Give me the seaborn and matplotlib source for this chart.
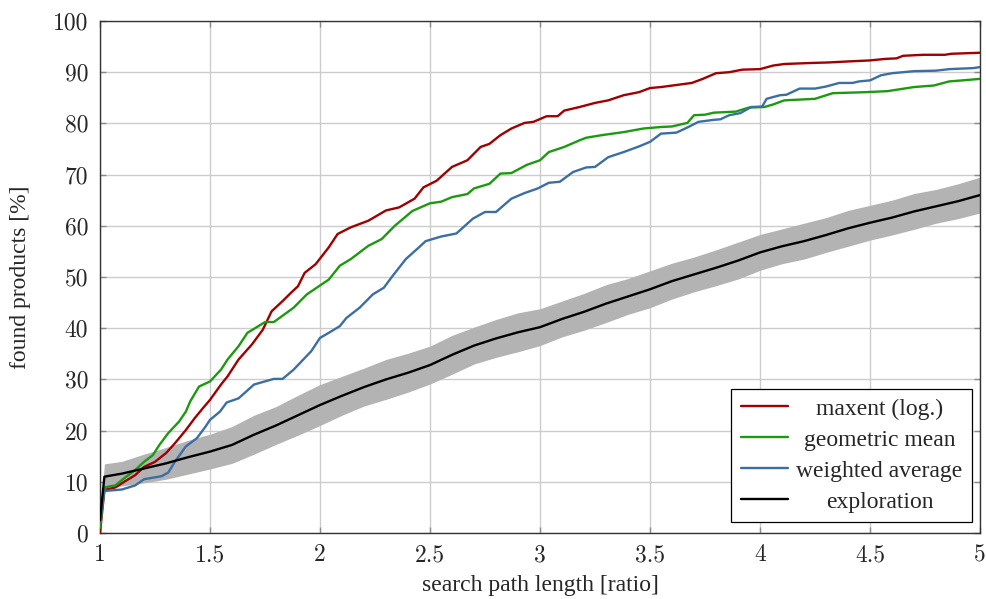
import matplotlib
matplotlib.use("Agg")
import matplotlib.pyplot as plt
import numpy as np
import pandas as pd
import seaborn as sns

# ---- data -------------------------------------------------------------
maxent_x = [1.0, 1.02, 1.07, 1.11, 1.16, 1.2, 1.25, 1.3, 1.34, 1.39, 1.43, 1.47, 1.5, 1.55, 1.58,
            1.63, 1.69, 1.74, 1.78, 1.83, 1.87, 1.9, 1.93, 1.98, 2.04, 2.08, 2.14, 2.22, 2.3, 2.36,
            2.43, 2.47, 2.53, 2.6, 2.67, 2.73, 2.77, 2.82, 2.87, 2.93, 2.97, 3.03, 3.08, 3.11, 3.18,
            3.25, 3.31, 3.38, 3.45, 3.5, 3.55, 3.62, 3.69, 3.74, 3.8, 3.86, 3.92, 4.0, 4.06, 4.11,
            4.23, 4.31, 4.4, 4.5, 4.57, 4.62, 4.65, 4.74, 4.84, 4.87, 5.0]
maxent_y = [0, 8.4, 8.9, 10, 11.3, 12.9, 13.9, 15.6, 17.5, 20.1, 22.4, 24.5, 26, 29, 30.6,
            33.9, 36.8, 39.7, 43.3, 45.3, 47, 48.2, 50.8, 52.5, 55.8, 58.4, 59.7, 61, 63, 63.6,
            65.3, 67.5, 68.8, 71.5, 72.8, 75.4, 76, 77.7, 79, 80.1, 80.3, 81.4, 81.4, 82.5, 83.2,
            84, 84.5, 85.5, 86.1, 86.9, 87.1, 87.5, 87.9, 88.7, 89.8, 90, 90.5, 90.6, 91.3, 91.6,
            91.8, 91.9, 92.1, 92.3, 92.6, 92.7, 93.2, 93.4, 93.4, 93.6, 93.8]

geo_x = [1.0, 1.02, 1.07, 1.11, 1.16, 1.2, 1.24, 1.27, 1.31, 1.36, 1.39, 1.41, 1.45, 1.5, 1.55,
         1.58, 1.63, 1.67, 1.72, 1.75, 1.79, 1.88, 1.94, 2.04, 2.09, 2.14, 2.22, 2.28, 2.34, 2.42,
         2.5, 2.55, 2.6, 2.67, 2.7, 2.77, 2.82, 2.87, 2.94, 3.0, 3.04, 3.11, 3.18, 3.21, 3.28,
         3.38, 3.47, 3.55, 3.6, 3.67, 3.7, 3.75, 3.79, 3.89, 3.95, 4.02, 4.06, 4.11, 4.25, 4.33,
         4.48, 4.58, 4.7, 4.79, 4.86, 4.92, 5.0]
geo_y = [1, 8.9, 9.3, 10.7, 12.3, 13.9, 15.2, 17.2, 19.5, 21.8, 23.7, 25.7, 28.6, 29.6, 31.9,
         33.9, 36.5, 39.1, 40.4, 41.2, 41.2, 44, 46.6, 49.5, 52.2, 53.5, 56.1, 57.4, 60, 62.9,
         64.4, 64.7, 65.6, 66.2, 67.3, 68.2, 70.2, 70.3, 71.9, 72.8, 74.4, 75.4, 76.7, 77.2, 77.7,
         78.3, 79, 79.3, 79.4, 80.1, 81.6, 81.7, 82.1, 82.3, 83.1, 83.2, 83.7, 84.5, 84.8, 85.9,
         86.1, 86.3, 87.1, 87.4, 88.2, 88.4, 88.7]

wavg_x = [1.0, 1.02, 1.1, 1.16, 1.2, 1.28, 1.31, 1.34, 1.39, 1.44, 1.48, 1.5, 1.545, 1.576, 1.63,
          1.7, 1.79, 1.83, 1.88, 1.96, 2.0, 2.04, 2.09, 2.12, 2.18, 2.24, 2.29, 2.33, 2.39, 2.45,
          2.48, 2.55, 2.62, 2.695, 2.75, 2.8, 2.87, 2.93, 2.99, 3.04, 3.09, 3.15, 3.21, 3.25, 3.31,
          3.38, 3.45, 3.5, 3.55, 3.62, 3.67, 3.72, 3.79, 3.82, 3.86, 3.91, 3.96, 4.01, 4.03, 4.09,
          4.12, 4.18, 4.25, 4.3, 4.36, 4.42, 4.45, 4.5, 4.55, 4.6, 4.7, 4.8, 4.86, 4.97, 5.0]
wavg_y = [2, 8.2, 8.5, 9.3, 10.5, 11.1, 11.8, 13.9, 16.9, 18.5, 20.8, 22.1, 23.7, 25.5, 26.3,
          29, 30.1, 30.1, 31.9, 35.5, 38.1, 39.1, 40.4, 42, 44, 46.6, 47.9, 50.2, 53.5, 55.8,
          57, 57.9, 58.5, 61.4, 62.7, 62.7, 65.3, 66.4, 67.3, 68.4, 68.6, 70.5, 71.4, 71.5, 73.4,
          74.4, 75.5, 76.4, 78, 78.2, 79.2, 80.3, 80.7, 80.8, 81.6, 82, 83.2, 83.3, 84.8, 85.5,
          85.6, 86.8, 86.8, 87.2, 87.9, 87.9, 88.2, 88.4, 89.4, 89.8, 90.2, 90.3, 90.6, 90.8, 91]

expl_x = [1.0, 1.02, 1.1, 1.2, 1.3, 1.4, 1.5, 1.6, 1.7, 1.8, 1.9, 2.0, 2.1, 2.2, 2.3, 2.4, 2.5,
          2.6, 2.7, 2.8, 2.9, 3.0, 3.1, 3.2, 3.3, 3.4, 3.5, 3.6, 3.7, 3.8, 3.9, 4.0, 4.1, 4.2,
          4.3, 4.4, 4.5, 4.6, 4.7, 4.8, 4.9, 5.0]
expl_y = [2.5, 11, 11.6, 12.6, 13.6, 14.8, 15.9, 17.2, 19.2, 21, 23, 25, 26.8, 28.5, 30, 31.3,
          32.8, 34.8, 36.6, 38, 39.2, 40.2, 41.8, 43.2, 44.8, 46.2, 47.6, 49.2, 50.5, 51.8, 53.2,
          54.8, 56, 57, 58.2, 59.5, 60.6, 61.6, 62.8, 63.8, 64.8, 66]
# half-width of the shaded exploration range
expl_spread = [0, 2.5, 2.4, 2.8, 3.1, 3.3, 3.4, 3.6, 3.8, 3.7, 3.9, 4.0, 3.8, 3.7, 3.9, 3.8,
               3.7, 3.8, 3.6, 3.7, 3.8, 3.6, 3.5, 3.6, 3.7, 3.5, 3.6, 3.5, 3.4, 3.5, 3.6, 3.5,
               3.4, 3.5, 3.4, 3.5, 3.4, 3.4, 3.5, 3.3, 3.4, 3.5]

series_names = ["maxent (log.)", "geometric mean", "weighted average", "exploration"]
series_colors = ["#a00000", "#1c9a0f", "#3a6ea5", "#000000"]

x_ticks = [1, 1.5, 2, 2.5, 3, 3.5, 4, 4.5, 5]
x_tick_labels = ["1", "1.5", "2", "2.5", "3", "3.5", "4", "4.5", "5"]
y_ticks = list(range(0, 101, 10))
y_tick_labels = [str(v) for v in y_ticks]

# ---- style ------------------------------------------------------------
sns.set_style("whitegrid")
plt.rcParams["font.family"] = ["Liberation Serif", "DejaVu Serif"]
plt.rcParams["mathtext.fontset"] = "cm"

df = pd.concat([
    pd.DataFrame({"x": xs, "y": ys, "series": name})
    for name, xs, ys in zip(series_names,
                            [maxent_x, geo_x, wavg_x, expl_x],
                            [maxent_y, geo_y, wavg_y, expl_y])
], ignore_index=True)

fig = plt.figure(figsize=(9.87, 5.99), dpi=100)
ax = fig.add_axes([100 / 987, 66 / 599, 880 / 987, 512 / 599])

lo = np.array(expl_y) - np.array(expl_spread)
hi = np.array(expl_y) + np.array(expl_spread)
ax.fill_between(expl_x, lo, hi, color="#b3b3b3", linewidth=0, zorder=1)

sns.lineplot(data=df, x="x", y="y", hue="series", hue_order=series_names,
             palette=dict(zip(series_names, series_colors)), estimator=None,
             sort=False, linewidth=1.7, legend=False, ax=ax, zorder=3)

ax.set_xlim(1, 5)
ax.set_ylim(0, 100)
ax.set_xticks(x_ticks, labels=x_tick_labels, fontfamily="cmr10", fontsize=17)
ax.set_yticks(y_ticks, labels=y_tick_labels, fontfamily="cmr10", fontsize=17)
ax.tick_params(axis="both", direction="in", length=4, width=1, color="#8a8a8a",
               bottom=True, left=True, top=True, right=True)
ax.tick_params(axis="x", pad=8)
ax.tick_params(axis="y", pad=8.5)
ax.grid(True, color="#cccccc", linewidth=1)
ax.set_axisbelow(True)
for sp in ax.spines.values():
    sp.set_visible(True)
    sp.set_color("#333333")
    sp.set_linewidth(1)

ax.set_xlabel("search path length [ratio]", fontsize=17, labelpad=6)
ax.set_ylabel("found products [%]", fontsize=17, labelpad=16)

handles = [plt.Line2D([], [], color=c, linewidth=1.7) for c in series_colors]
leg = ax.legend(handles, series_names, loc="lower right",
                bbox_to_anchor=(0.9909, 0.0215), borderaxespad=0, fontsize=17,
                frameon=True, fancybox=False, framealpha=1, edgecolor="black",
                handlelength=2.0, handletextpad=0.35, borderpad=0.4,
                labelspacing=0.4)
leg.get_frame().set_linewidth(0.9)
leg.set_zorder(5)

# center the entry texts within the legend column
fig.canvas.draw()
renderer = fig.canvas.get_renderer()
widths = [t.get_window_extent(renderer).width for t in leg.get_texts()]
wmax = max(widths)
for t, w in zip(leg.get_texts(), widths):
    t.set_position(((wmax - w) / 2, 0))

fig.savefig("out.png", dpi=100)
